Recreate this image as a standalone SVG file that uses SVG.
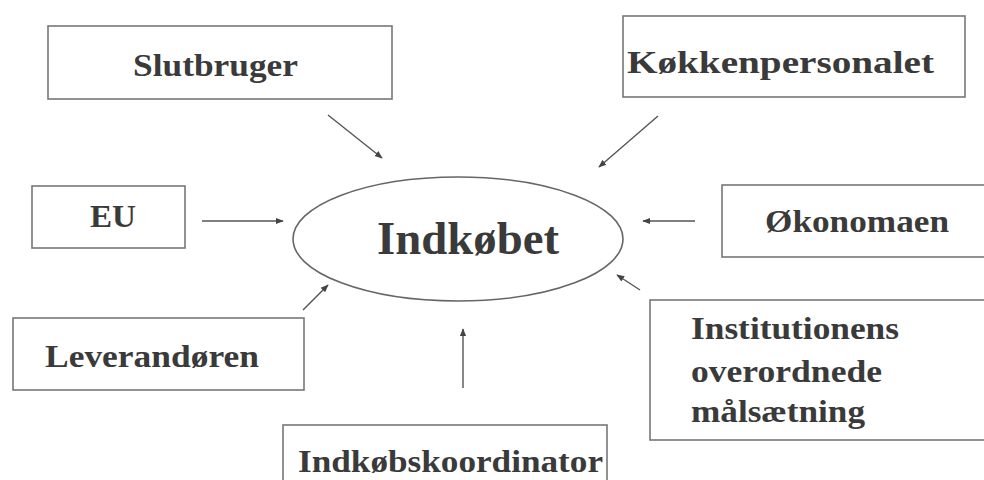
<svg xmlns="http://www.w3.org/2000/svg" width="984" height="480" viewBox="0 0 984 480">
  <defs>
    <marker id="ah" viewBox="0 0 10 10" refX="9" refY="5" markerWidth="8" markerHeight="8" markerUnits="userSpaceOnUse" orient="auto">
      <path d="M0,1 L10,5 L0,9 z" fill="#444"/>
    </marker>
    <style>
      .box { fill: #ffffff; stroke: #777; stroke-width: 1.6; }
      .lbl { font-family: "Liberation Serif", "Times New Roman", serif; font-weight: bold; font-size: 32px; fill: #3a3a3a; }
      .big { font-size: 47px; }
      .conn { stroke: #555; stroke-width: 1.4; fill: none; marker-end: url(#ah); }
    </style>
  </defs>
  <rect width="984" height="480" fill="#ffffff"/>

  <g id="slutbruger">
    <rect class="box" x="48" y="26" width="344" height="73"/>
    <text class="lbl" x="133" y="76" textLength="165" lengthAdjust="spacingAndGlyphs">Slutbruger</text>
  </g>
  <g id="kokkenpersonalet">
    <rect class="box" x="623" y="16" width="342" height="81"/>
    <text class="lbl" x="627" y="73" textLength="307" lengthAdjust="spacingAndGlyphs">Køkkenpersonalet</text>
  </g>
  <g id="eu">
    <rect class="box" x="32" y="186" width="153" height="62"/>
    <text class="lbl" x="90" y="227" textLength="46" lengthAdjust="spacingAndGlyphs">EU</text>
  </g>
  <g id="indkobet">
    <ellipse cx="458" cy="239" rx="165" ry="62" fill="#ffffff" stroke="#666" stroke-width="1.6"/>
    <text class="lbl big" x="377" y="254" textLength="182" lengthAdjust="spacingAndGlyphs">Indkøbet</text>
  </g>
  <g id="okonomaen">
    <rect class="box" x="722" y="185" width="272" height="72"/>
    <text class="lbl" x="765" y="232" textLength="184" lengthAdjust="spacingAndGlyphs">Økonomaen</text>
  </g>
  <g id="leverandoren">
    <rect class="box" x="13" y="318" width="291" height="72"/>
    <text class="lbl" x="45" y="367" textLength="214" lengthAdjust="spacingAndGlyphs">Leverandøren</text>
  </g>
  <g id="institutionens">
    <rect class="box" x="650" y="300" width="344" height="140"/>
    <text class="lbl" x="691" y="339" textLength="208" lengthAdjust="spacingAndGlyphs">Institutionens</text>
    <text class="lbl" x="691" y="382" textLength="191" lengthAdjust="spacingAndGlyphs">overordnede</text>
    <text class="lbl" x="691" y="422" textLength="174" lengthAdjust="spacingAndGlyphs">målsætning</text>
  </g>
  <g id="indkobskoordinator">
    <rect class="box" x="283" y="425" width="324" height="70"/>
    <text class="lbl" x="298" y="472" textLength="305" lengthAdjust="spacingAndGlyphs">Indkøbskoordinator</text>
  </g>

  <g id="connectors">
    <line class="conn" x1="328" y1="115" x2="382" y2="158"/>
    <line class="conn" x1="658" y1="116" x2="599" y2="167"/>
    <line class="conn" x1="202" y1="221" x2="283" y2="221"/>
    <line class="conn" x1="695" y1="221" x2="643" y2="221"/>
    <line class="conn" x1="303" y1="310" x2="328" y2="285"/>
    <line class="conn" x1="463" y1="388" x2="463" y2="329"/>
    <line class="conn" x1="640" y1="290" x2="617" y2="275"/>
  </g>
</svg>
